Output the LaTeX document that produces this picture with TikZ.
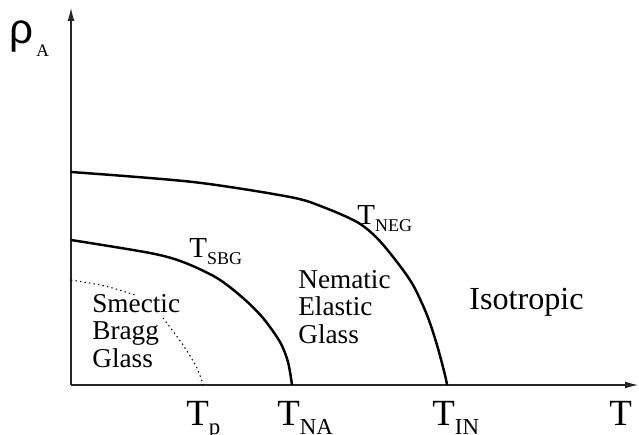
\documentclass[tikz,border=0pt]{standalone}
\usepackage{fontspec}
\setmainfont{Liberation Serif}
\newfontfamily\rhofont{Liberation Sans}
\usetikzlibrary{arrows.meta}
\newcommand{\lowsub}[2][0.25em]{\raisebox{-#1}{\scalebox{0.62}{#2}}}

\begin{document}
\begin{tikzpicture}[x=0.02cm, y=-0.02cm,
  axis/.style={black!85, line width=0.6pt, -{Latex[length=2.6mm, width=1.4mm]}},
  phaseline/.style={line width=1.4pt, line join=round},
  crossover/.style={line width=0.6pt, dash pattern=on 0.8pt off 1.8pt},
  region/.style={align=left, inner sep=0pt, anchor=north west, font=\rmfamily\fontsize{15.5}{15.6}\selectfont},
  templabel/.style={inner sep=0pt, anchor=base west, font=\rmfamily\fontsize{21}{21}\selectfont},
  linelabel/.style={inner sep=0pt, anchor=base west, font=\rmfamily\fontsize{16.5}{16.5}\selectfont}]
\useasboundingbox (0,0) rectangle (639,435);
\coordinate (O) at (71,385);
\coordinate (ytop) at (71,8);
\coordinate (xend) at (638,385);
\draw[axis] (O) -- (ytop);
\draw[axis] (O) -- (xend);

% phase boundaries
\draw[phaseline] plot[smooth, tension=0.5] coordinates
  {(71,172) (193,182) (290,197) (323,207) (357,222) (377,238) (397,262)
   (413,285) (427,315) (437,345) (445,375) (447,385)};
\draw[phaseline] plot[smooth, tension=0.5] coordinates
  {(71,240) (150,253) (183,262) (217,278) (243,298) (263,318) (280,342)
   (288,362) (292,385)};
\draw[crossover] plot[smooth, tension=0.5] coordinates {(71,280) (105,286) (135,295)};
\draw[crossover] plot[smooth, tension=0.5] coordinates {(163,318) (183,345) (197,368) (203,385)};

% labels
\node[inner sep=0pt, anchor=base west] (rho) at (9,44)
  {{\rhofont\fontsize{24}{24}\selectfont ρ}\,\raisebox{-7.4pt}{\rmfamily\fontsize{10}{10}\selectfont A}};
\node[templabel] (Tp) at (186,425) {T\lowsub{p}};
\node[templabel] (TNA) at (277,425) {T\lowsub{NA}};
\node[templabel] (TIN) at (432,425) {T\lowsub{IN}};
\node[templabel] (T) at (609,425) {T};
\node[linelabel] (TNEG) at (357,225) {T\lowsub[0.22em]{NEG}};
\node[linelabel] (TSBG) at (189,258) {T\lowsub[0.22em]{SBG}};
\node[region] (SBG) at (92,294) {Smectic\\Bragg\\Glass};
\node[region] (NEG) at (298,270) {Nematic\\Elastic\\Glass};
\node[inner sep=0pt, anchor=base west, font=\rmfamily\fontsize{18.3}{18.3}\selectfont] (iso) at (469,310) {Isotropic};
\end{tikzpicture}
\end{document}
